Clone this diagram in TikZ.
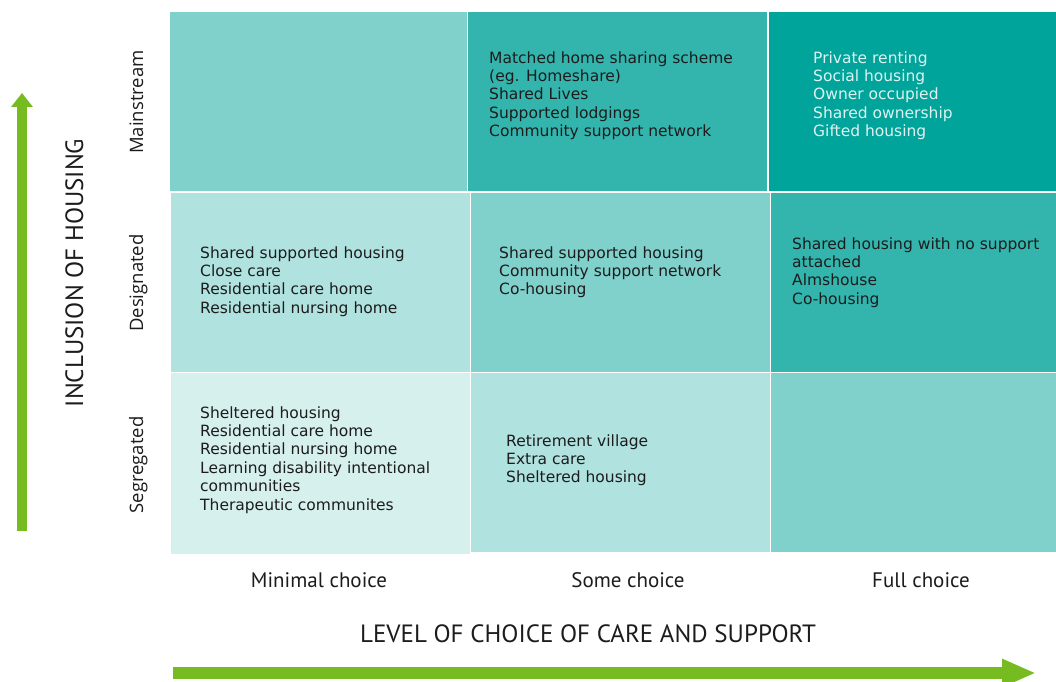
\documentclass[tikz,border=0pt]{standalone}
\usepackage{fontspec}
\setmainfont{DejaVu Sans}
\newfontfamily\labelfont{PT Sans}
\newfontfamily\rowfont{Open Sans}
\usetikzlibrary{arrows.meta}
\definecolor{tealA}{HTML}{D6F0EE}
\definecolor{tealB}{HTML}{B0E3E0}
\definecolor{tealC}{HTML}{80D0CC}
\definecolor{tealD}{HTML}{33B5AE}
\definecolor{tealE}{HTML}{00A49A}
\definecolor{axisgreen}{HTML}{76BC21}
\definecolor{textdark}{HTML}{1C1C1C}
\definecolor{textlight}{HTML}{DDF3F1}

\begin{document}
\begin{tikzpicture}[x=1pt, y=1pt,
		celltext/.style={anchor=north west, inner sep=0pt, align=left, text=textdark,
			font=\fontsize{15.5}{18.4}\selectfont},
		rowlabel/.style={anchor=base, rotate=90, inner sep=0pt, text=textdark,
			font=\rowfont\fontsize{18.5}{20}\selectfont},
		collabel/.style={anchor=base, inner sep=0pt, text=textdark,
			font=\labelfont\fontsize{21}{23}\selectfont},
		axistitle/.style={anchor=base, inner sep=0pt, text=textdark,
			font=\labelfont\fontsize{25}{27}\selectfont}]
	%%%%% START %%%%%
	
	\useasboundingbox (0, 0) rectangle (1056, 681);
	
	% top row: mainstream
	\fill[tealC] (170, 490) rectangle (467, 669);
	\fill[tealD] (468, 490) rectangle (767, 669);
	\fill[tealE] (769, 490) rectangle (1056, 669);
	
	% middle row: designated
	\fill[tealB] (171, 309) rectangle (470, 488);
	\fill[tealC] (471, 309) rectangle (770, 488);
	\fill[tealD] (771, 309) rectangle (1056, 488);
	
	% bottom row: segregated
	\fill[tealA] (171, 127) rectangle (470, 308);
	\fill[tealB] (471, 129) rectangle (770, 308);
	\fill[tealC] (771, 129) rectangle (1056, 308);
	
	\node[celltext] (mainSome) at (489, 631) {\strut Matched home sharing scheme\\(eg. Homeshare)\\Shared Lives\\Supported lodgings\\Community support network};
	\node[celltext, text=textlight] (mainFull) at (813, 631) {\strut Private renting\\Social housing\\Owner occupied\\Shared ownership\\Gifted housing};
	
	\node[celltext] (desMin) at (200, 436) {\strut Shared supported housing\\Close care\\Residential care home\\Residential nursing home};
	\node[celltext] (desSome) at (499, 436) {\strut Shared supported housing\\Community support network\\Co-housing};
	\node[celltext] (desFull) at (792, 445) {\strut Shared housing with no support\\attached\\Almshouse\\Co-housing};
	
	\node[celltext] (segMin) at (200, 276) {\strut Sheltered housing\\Residential care home\\Residential nursing home\\Learning disability intentional\\communities\\Therapeutic communites};
	\node[celltext] (segSome) at (506, 248) {\strut Retirement village\\Extra care\\Sheltered housing};
	
	% row and column labels
	\node[rowlabel] (lblMain) at (143, 579) {Mainstream};
	\node[rowlabel] (lblDes) at (143, 398) {Designated};
	\node[rowlabel] (lblSeg) at (143, 216) {Segregated};
	
	\node[collabel] (lblMin) at (319, 93.5) {Minimal choice};
	\node[collabel] (lblSome) at (628, 93.5) {Some choice};
	\node[collabel] (lblFull) at (921, 93.5) {Full choice};
	
	\node[axistitle, rotate=90] (yTitle) at (83, 408) {INCLUSION OF HOUSING};
	\node[axistitle] (xTitle) at (588, 39) {LEVEL OF CHOICE OF CARE AND SUPPORT};
	
	% green axis arrows
	\coordinate (yFoot) at (22, 150);
	\coordinate (yTip) at (22, 588);
	\coordinate (xFoot) at (173, 8);
	\coordinate (xTip) at (1036, 8);
	\draw[axisgreen, line width=10pt, -{Triangle[length=14pt, width=21pt]}] (yFoot) -- (yTip);
	\draw[axisgreen, line width=12pt, -{Triangle[length=34pt, width=26pt]}] (xFoot) -- (xTip);
	
	%%%%% END %%%%%
\end{tikzpicture}
\end{document}
